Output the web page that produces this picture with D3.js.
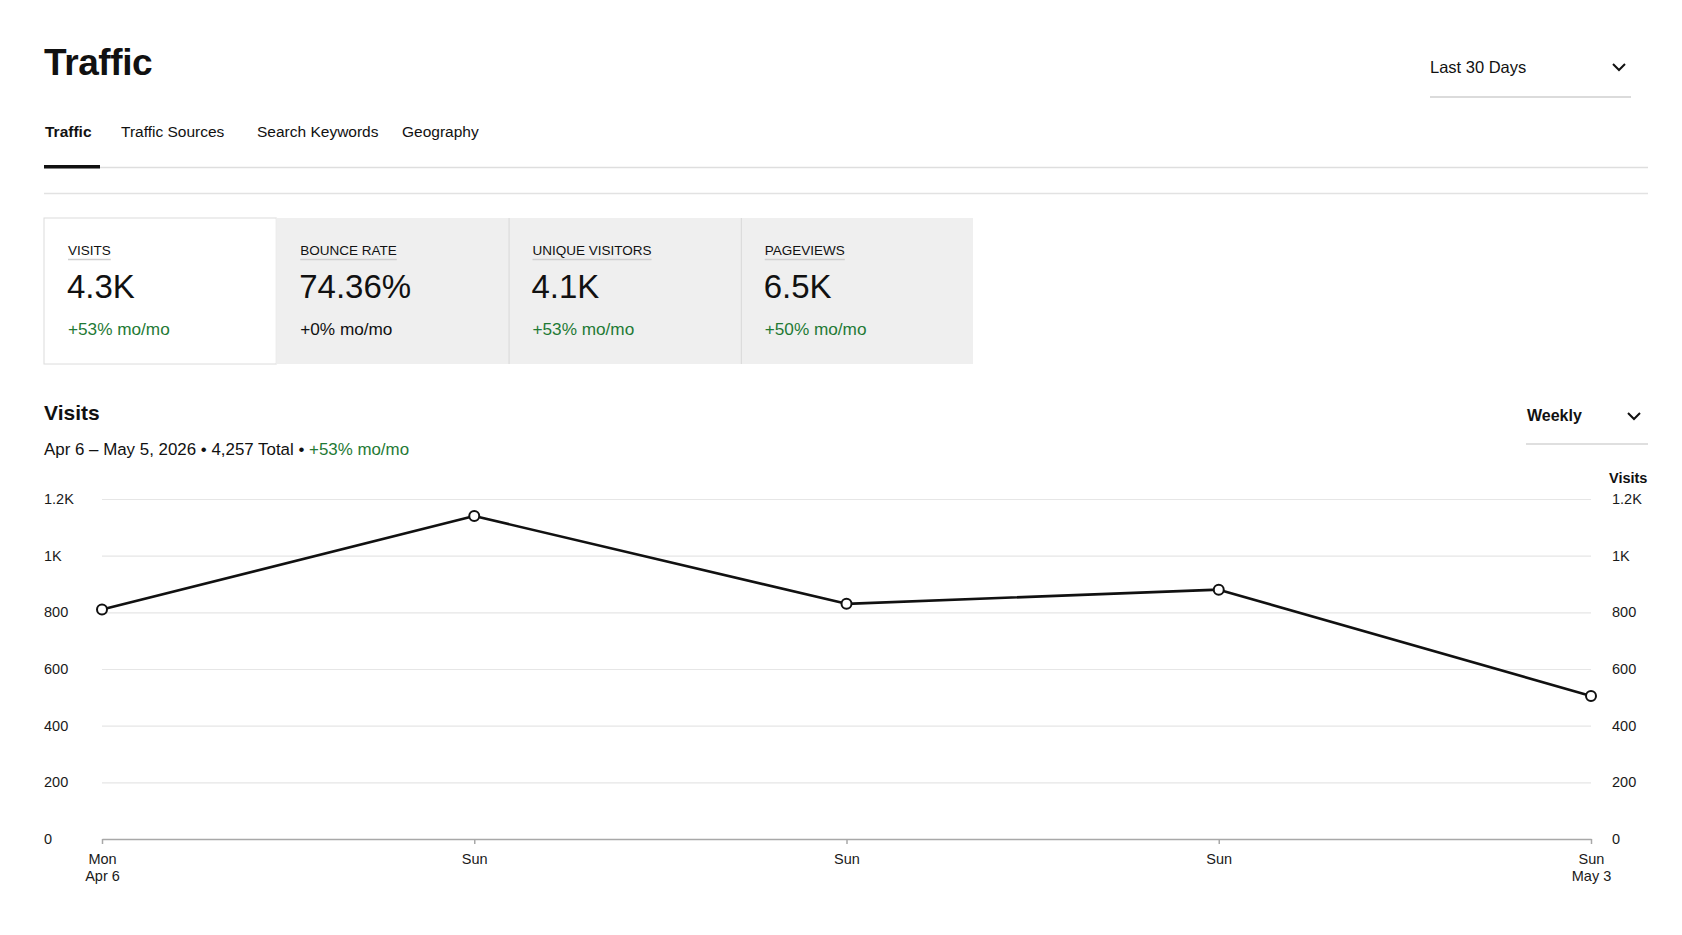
<!DOCTYPE html>
<html>
<head>
<meta charset="utf-8">
<title>Traffic</title>
<script src="https://cdn.jsdelivr.net/npm/d3@7"></script>
<style>
  body { margin: 0; background: #fff; }
  svg { display: block; font-family: "Liberation Sans", Arial, Helvetica, sans-serif; }
</style>
</head>
<body>
<div id="chart"></div>
<script>
const tabs = ["Traffic", "Traffic Sources", "Search Keywords", "Geography"];
const metricLabels = ["VISITS", "BOUNCE RATE", "UNIQUE VISITORS", "PAGEVIEWS"];
const metricValues = ["4.3K", "74.36%", "4.1K", "6.5K"];
const metricChanges = ["+53% mo/mo", "+0% mo/mo", "+53% mo/mo", "+50% mo/mo"];
const metricUp = [true, false, true, true];

const weeks = ["Apr 6", "Apr 12", "Apr 19", "Apr 26", "May 3"];
const weekTickLabels = [["Mon", "Apr 6"], ["Sun"], ["Sun"], ["Sun"], ["Sun", "May 3"]];
const visits = [810, 1140, 830, 880, 505];
const yTicks = [0, 200, 400, 600, 800, 1000, 1200];

const W = 1682, H = 935;
const ink = "#111", green = "#1f7a35", rule = "#dedede";

const svg = d3.select("#chart").append("svg")
    .attr("width", W)
    .attr("height", H)
    .attr("viewBox", `0 0 ${W} ${H}`);

function chevron(g, x, y) {
    g.append("path")
        .attr("d", `M${x - 6},${y - 3}L${x},${y + 3}L${x + 6},${y - 3}`)
        .attr("fill", "none")
        .attr("stroke", ink)
        .attr("stroke-width", 2);
}

// header
svg.append("text")
    .attr("x", 44).attr("y", 75)
    .attr("font-size", 37).attr("font-weight", 700)
    .attr("letter-spacing", -0.4)
    .attr("fill", ink)
    .text("Traffic");

svg.append("text")
    .attr("x", 1430).attr("y", 73)
    .attr("font-size", 16.5).attr("fill", ink)
    .text("Last 30 Days");
chevron(svg, 1619, 67);
svg.append("line")
    .attr("x1", 1430).attr("x2", 1631).attr("y1", 97).attr("y2", 97)
    .attr("stroke", "#cfcfcf").attr("stroke-width", 1.5);

// tabs
const tabX = [45, 121, 257, 402];
svg.append("g").selectAll("text")
    .data(tabs)
    .enter()
    .append("text")
    .attr("x", (d, i) => tabX[i])
    .attr("y", 137)
    .attr("font-size", 15.5)
    .attr("font-weight", (d, i) => i === 0 ? 700 : 400)
    .attr("fill", ink)
    .text(d => d);

svg.append("line")
    .attr("x1", 44).attr("x2", 1648).attr("y1", 167.5).attr("y2", 167.5)
    .attr("stroke", rule).attr("stroke-width", 1.5);
svg.append("rect")
    .attr("x", 44).attr("y", 165).attr("width", 56).attr("height", 3.5)
    .attr("fill", ink);
svg.append("line")
    .attr("x1", 44).attr("x2", 1648).attr("y1", 193.5).attr("y2", 193.5)
    .attr("stroke", "#e2e2e2").attr("stroke-width", 1.5);

// metric cards
const cardX = d3.scaleBand().domain(d3.range(metricLabels.length)).range([44, 973]);
const cards = svg.append("g").selectAll("g")
    .data(metricLabels)
    .enter()
    .append("g")
    .attr("transform", (d, i) => `translate(${cardX(i)},218)`);

cards.append("rect")
    .attr("width", cardX.bandwidth())
    .attr("height", 146)
    .attr("fill", (d, i) => i === 0 ? "#fff" : "#efefef")
    .attr("stroke", (d, i) => i === 0 ? "#dcdcdc" : "none");
cards.filter((d, i) => i > 1).append("line")
    .attr("x1", 0.5).attr("x2", 0.5).attr("y1", 0).attr("y2", 146)
    .attr("stroke", "#d6d6d6");

const labels = cards.append("text")
    .attr("x", 24).attr("y", 37)
    .attr("font-size", 13.5).attr("fill", ink)
    .text(d => d);
labels.each(function () {
    const w = this.getComputedTextLength();
    d3.select(this.parentNode).append("line")
        .attr("x1", 24).attr("x2", 24 + w).attr("y1", 41.5).attr("y2", 41.5)
        .attr("stroke", "#cfcfcf").attr("stroke-width", 1.5);
});
cards.append("text")
    .attr("x", 23).attr("y", 80)
    .attr("font-size", 33).attr("fill", ink)
    .text((d, i) => metricValues[i]);
cards.append("text")
    .attr("x", 24).attr("y", 117)
    .attr("font-size", 17.2).attr("fill", (d, i) => metricUp[i] ? green : ink)
    .text((d, i) => metricChanges[i]);

// visits section
svg.append("text")
    .attr("x", 44).attr("y", 420)
    .attr("font-size", 21).attr("font-weight", 700).attr("fill", ink)
    .text("Visits");

const total = d3.format(",")(4257);
const sub = svg.append("text")
    .attr("x", 44).attr("y", 455)
    .attr("font-size", 16.9).attr("fill", ink);
sub.append("tspan").text(`Apr 6 – May 5, 2026 • ${total} Total • `);
sub.append("tspan").attr("fill", green).text("+53% mo/mo");

svg.append("text")
    .attr("x", 1527).attr("y", 421)
    .attr("font-size", 16).attr("font-weight", 700).attr("fill", ink)
    .text("Weekly");
chevron(svg, 1634, 416);
svg.append("line")
    .attr("x1", 1526).attr("x2", 1648).attr("y1", 444).attr("y2", 444)
    .attr("stroke", "#d4d4d4").attr("stroke-width", 1.5);

// chart
const x = d3.scalePoint().domain(weeks).range([102, 1591]);
const y = d3.scaleLinear().domain([0, 1200]).range([839, 499]);
const kFormat = d => d >= 1000 ? `${d / 1000}K` : `${d}`;

svg.append("g")
    .attr("transform", "translate(1591,0)")
    .call(d3.axisLeft(y).tickValues(yTicks.slice(1)).tickSize(1489).tickFormat(""))
    .call(g => g.select(".domain").remove())
    .call(g => g.selectAll(".tick line").attr("stroke", "#e6e6e6").attr("stroke-width", 1.2));

svg.append("g")
    .attr("transform", "translate(44,0)")
    .call(d3.axisRight(y).tickValues(yTicks).tickSize(0).tickPadding(0).tickFormat(kFormat))
    .call(g => g.select(".domain").remove())
    .call(g => g.selectAll("text").attr("font-size", 14.5).attr("fill", "#1a1a1a").attr("font-family", null));

svg.append("g")
    .attr("transform", "translate(1612,0)")
    .call(d3.axisRight(y).tickValues(yTicks).tickSize(0).tickPadding(0).tickFormat(kFormat))
    .call(g => g.select(".domain").remove())
    .call(g => g.selectAll("text").attr("font-size", 14.5).attr("fill", "#1a1a1a").attr("font-family", null));

svg.append("text")
    .attr("x", 1609).attr("y", 483)
    .attr("font-size", 14.5).attr("font-weight", 700).attr("fill", ink)
    .text("Visits");

const xAxis = svg.append("g")
    .attr("transform", "translate(0,839)")
    .call(d3.axisBottom(x).tickSize(5).tickSizeOuter(0).tickFormat(""))
    .call(g => g.select(".domain").attr("stroke", "#a8a8a8").attr("stroke-width", 1.5))
    .call(g => g.selectAll(".tick line").attr("stroke", "#a8a8a8").attr("stroke-width", 1.5));

xAxis.selectAll(".tick")
    .append("text")
    .attr("fill", "#1a1a1a")
    .attr("font-size", 14.5)
    .attr("font-family", "Liberation Sans, Arial, sans-serif")
    .attr("text-anchor", "middle")
    .each(function (d, i) {
        d3.select(this).selectAll("tspan")
            .data(weekTickLabels[i])
            .enter()
            .append("tspan")
            .attr("x", 0)
            .attr("y", (t, j) => 25 + j * 17)
            .text(t => t);
    });

const line = d3.line()
    .x((d, i) => x(weeks[i]))
    .y(d => y(d));

svg.append("path")
    .datum(visits)
    .attr("d", line)
    .attr("fill", "none")
    .attr("stroke", ink)
    .attr("stroke-width", 2.6)
    .attr("stroke-linejoin", "round");

svg.append("g").selectAll("circle")
    .data(visits)
    .enter()
    .append("circle")
    .attr("cx", (d, i) => x(weeks[i]))
    .attr("cy", d => y(d))
    .attr("r", 5)
    .attr("fill", "#fff")
    .attr("stroke", ink)
    .attr("stroke-width", 2);
</script>
</body>
</html>
